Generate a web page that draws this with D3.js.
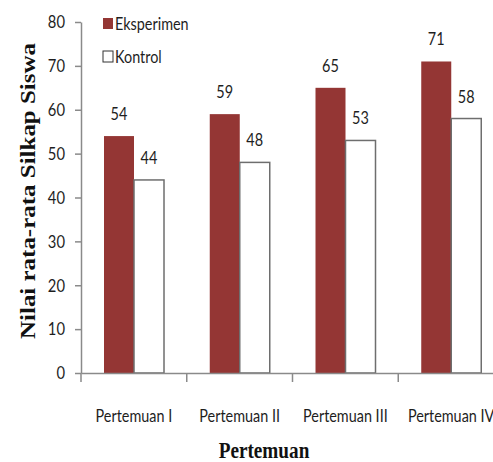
<!DOCTYPE html>
<html>
<head>
<meta charset="utf-8">
<script src="https://cdn.jsdelivr.net/npm/d3@7"></script>
<style>
  body { margin: 0; background: #fff; }
  svg { display: block; }
</style>
</head>
<body>
<svg id="chart" width="493" height="462"></svg>
<script>
// data
const sessions = ["Pertemuan I", "Pertemuan II", "Pertemuan III", "Pertemuan IV"];
const seriesNames = ["Eksperimen", "Kontrol"];
const eksperimen = [54, 59, 65, 71];
const kontrol = [44, 48, 53, 58];
const yTicks = [0, 10, 20, 30, 40, 50, 60, 70, 80];

const svg = d3.select("#chart");
const plotLeft = 81, plotRight = 504, plotTop = 22, plotBottom = 373;
const tickFont = "Lato, 'Open Sans', sans-serif";
const serifFont = "'Liberation Serif', 'DejaVu Serif', serif";
const colors = { Eksperimen: "#943634", Kontrol: "#ffffff" };
const axisColor = "#8a8a8a";
const textColor = "#1e1e1e";

// the original text is tall and narrow, squeeze it horizontally
function squeeze(sel, k) {
  sel.each(function () {
    const len = this.getComputedTextLength();
    d3.select(this).attr("textLength", len * k).attr("lengthAdjust", "spacingAndGlyphs");
  });
}

const x = d3.scaleBand().domain(sessions).range([plotLeft, plotRight]);
const x1 = d3.scaleBand().domain(seriesNames).range([23, 23 + 60]);
const y = d3.scaleLinear().domain([0, 80]).range([plotBottom, plotTop]);

const rows = sessions.map((s, i) => ({ s, vals: [
  { k: "Eksperimen", v: eksperimen[i] },
  { k: "Kontrol", v: kontrol[i] }
]}));

// bars
const grp = svg.append("g").selectAll("g")
  .data(rows).enter().append("g")
  .attr("transform", d => "translate(" + x(d.s) + ",0)");

grp.selectAll("rect")
  .data(d => d.vals).enter().append("rect")
  .attr("x", d => x1(d.k))
  .attr("y", d => y(d.v))
  .attr("width", x1.bandwidth())
  .attr("height", d => plotBottom - y(d.v))
  .attr("fill", d => colors[d.k])
  .attr("stroke", d => d.k === "Kontrol" ? "#6e6e6e" : "none")
  .attr("stroke-width", 1.5);

const vals = grp.selectAll("text")
  .data(d => d.vals).enter().append("text")
  .attr("x", d => x1(d.k) + x1.bandwidth() / 2)
  .attr("y", d => y(d.v) - 16)
  .attr("text-anchor", "middle")
  .attr("font-family", tickFont)
  .attr("font-size", 17)
  .attr("fill", textColor)
  .text(d => d.v);
squeeze(vals, 0.85);

// y axis
const yAxis = svg.append("g")
  .attr("transform", "translate(" + plotLeft + ",0)")
  .call(d3.axisLeft(y).tickValues(yTicks).tickSize(6).tickSizeOuter(0).tickPadding(10));
yAxis.select(".domain").attr("stroke", axisColor).attr("stroke-width", 1.5);
yAxis.selectAll(".tick line").attr("stroke", axisColor).attr("stroke-width", 1.5);
const yLabels = yAxis.selectAll(".tick text")
  .attr("font-family", tickFont).attr("font-size", 18).attr("fill", textColor);
squeeze(yLabels, 0.82);

// x axis
const xAxis = svg.append("g")
  .attr("transform", "translate(0," + plotBottom + ")")
  .call(d3.axisBottom(x).tickSize(0).tickSizeOuter(0));
xAxis.select(".domain").attr("stroke", axisColor).attr("stroke-width", 1.5);
const xLabels = xAxis.selectAll(".tick text")
  .attr("dy", null).attr("y", 49)
  .attr("font-family", tickFont).attr("font-size", 18).attr("fill", textColor);
squeeze(xLabels, 0.8);
// separators between categories
svg.append("g").selectAll("line")
  .data(sessions).enter().append("line")
  .attr("x1", d => x(d)).attr("x2", d => x(d))
  .attr("y1", plotBottom).attr("y2", plotBottom + 9)
  .attr("stroke", axisColor).attr("stroke-width", 1.5);

// axis titles
svg.append("text")
  .attr("transform", "translate(35,191) rotate(-90)")
  .attr("text-anchor", "middle")
  .attr("font-family", serifFont)
  .attr("font-weight", "bold")
  .attr("font-size", 22)
  .attr("textLength", 296)
  .attr("lengthAdjust", "spacingAndGlyphs")
  .attr("fill", "#111")
  .text("Nilai rata-rata Silkap Siswa");

const xTitle = svg.append("text")
  .attr("x", 264).attr("y", 458)
  .attr("text-anchor", "middle")
  .attr("font-family", serifFont)
  .attr("font-weight", "bold")
  .attr("font-size", 24)
  .attr("fill", "#111")
  .text("Pertemuan");
squeeze(xTitle, 0.8);

// legend
const legend = svg.append("g").selectAll("g")
  .data(seriesNames).enter().append("g")
  .attr("transform", (d, i) => "translate(103," + (18 + i * 33) + ")");
legend.append("rect")
  .attr("width", 10).attr("height", 11)
  .attr("fill", d => colors[d])
  .attr("stroke", d => d === "Kontrol" ? "#333" : "none");
const legText = legend.append("text")
  .attr("x", 12).attr("y", 12)
  .attr("font-family", tickFont)
  .attr("font-size", 18)
  .attr("fill", textColor)
  .text(d => d);
squeeze(legText, 0.8);
</script>
</body>
</html>
